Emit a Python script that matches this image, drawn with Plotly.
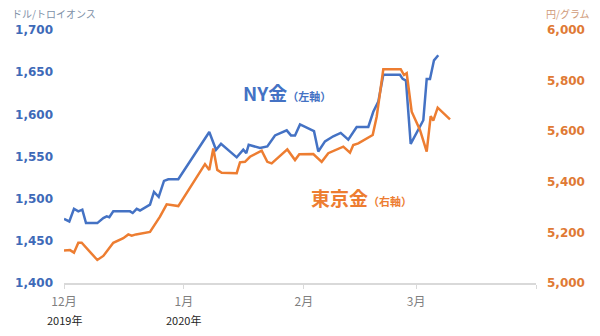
import pandas as pd
import plotly.graph_objects as go

# --- data ---
base_date = "2019-12-01"

ny_days = [0, 1.37, 2.58, 3.70, 4.73, 5.69, 8.61, 10.16, 11.04, 11.71, 12.74, 17.06, 17.76,
           18.79, 19.64, 22.23, 23.26, 24.48, 25.85, 26.96, 29.54, 37.55, 39.29, 40.58,
           44.64, 46.34, 47.12, 47.74, 50.66, 52.55, 54.54, 57.56, 58.67, 59.71, 61.0,
           63.40, 64.62, 65.73, 67.46, 69.60, 71.52, 73.48, 75.65, 78.65, 79.94, 81.24,
           82.53, 86.84, 87.54, 88.39, 89.61, 92.87, 93.75, 94.60, 95.63, 96.74]
ny_gold = [1476, 1473, 1488, 1485, 1487, 1471, 1471, 1477, 1479, 1478, 1485, 1485, 1483,
           1488, 1486, 1493, 1508, 1502, 1521, 1523, 1523, 1579, 1558, 1565,
           1549, 1558, 1554, 1564, 1560, 1562, 1575, 1581, 1575, 1575, 1588,
           1583, 1580, 1556, 1568, 1574, 1578, 1570, 1585, 1585, 1603, 1615,
           1647, 1647, 1642, 1640, 1565, 1593, 1642, 1642, 1664, 1670]

tk_days = [0, 1.55, 2.58, 3.70, 4.57, 8.61, 10.16, 12.74, 15.33, 16.62, 17.50, 18.61,
           22.23, 24.81, 26.54, 29.54, 36.44, 37.55, 38.59, 39.62, 40.76, 44.64, 45.49,
           46.78, 48.07, 51.10, 52.55, 53.68, 57.72, 59.71, 60.82, 64.44, 66.61, 68.31,
           72.19, 73.92, 74.77, 76.07, 79.79, 80.82, 82.53, 87.03, 87.88, 88.58, 89.87,
           92.01, 93.75, 94.78, 95.45, 96.59, 99.77]
tokyo_gold = [5128, 5130, 5120, 5159, 5159, 5091, 5107, 5159, 5177, 5192, 5187, 5192,
              5202, 5262, 5311, 5304, 5470, 5447, 5532, 5447, 5436, 5434, 5477,
              5479, 5499, 5523, 5479, 5473, 5528, 5486, 5509, 5510, 5479, 5513,
              5539, 5515, 5545, 5552, 5585, 5657, 5845, 5845, 5822, 5829, 5677,
              5605, 5519, 5660, 5642, 5693, 5647]

month_ticks = ["2019-12-01", "2020-01-01", "2020-02-01", "2020-03-01", "2020-04-01"]
month_labels = ["12月", "1月", "2月", "3月", ""]
year_labels = ["2019年", "2020年", "", "", ""]

left_ticks = [1400, 1450, 1500, 1550, 1600, 1650, 1700]
right_ticks = [5000, 5200, 5400, 5600, 5800, 6000]

BLUE = "#4472C4"
ORANGE = "#ED7D31"

t0 = pd.Timestamp(base_date)
ny_x = t0 + pd.to_timedelta(ny_days, unit="D")
tk_x = t0 + pd.to_timedelta(tk_days, unit="D")

fig = go.Figure()
fig.add_trace(go.Scatter(x=ny_x, y=ny_gold, mode="lines",
                         line=dict(color=BLUE, width=2.5), yaxis="y", showlegend=False))
fig.add_trace(go.Scatter(x=tk_x, y=tokyo_gold, mode="lines",
                         line=dict(color=ORANGE, width=2.5), yaxis="y2", showlegend=False))

fig.update_layout(
    width=600, height=336,
    margin=dict(l=64, r=64, t=30, b=53),
    paper_bgcolor="white", plot_bgcolor="white",
    font=dict(family="Noto Sans CJK JP"),
    xaxis=dict(
        type="date",
        range=["2019-12-01", "2020-04-01"],
        tickvals=month_ticks, ticktext=month_labels,
        ticks="outside", ticklen=4, tickcolor="#d9d9d9",
        showline=True, linecolor="#d9d9d9", linewidth=1.5,
        showgrid=False, zeroline=False,
        tickfont=dict(size=12, color="#7f7f7f", family="Noto Sans CJK JP"),
        ticklabelstandoff=3,
    ),
    yaxis=dict(
        range=[1400, 1700], tickvals=left_ticks,
        ticktext=[f"{v:,}" for v in left_ticks],
        showgrid=False, zeroline=False, showline=False,
        tickfont=dict(size=12, color="#3E6AB8", family="DejaVu Sans", weight="bold"),
        ticklabelstandoff=10,
    ),
    yaxis2=dict(
        range=[5000, 6000], tickvals=right_ticks,
        ticktext=[f"{v:,}" for v in right_ticks],
        overlaying="y", side="right",
        showgrid=False, zeroline=False, showline=False,
        tickfont=dict(size=12, color="#E07A35", family="DejaVu Sans", weight="bold"),
        ticklabelstandoff=10,
    ),
)

for tv, yl in zip(month_ticks, year_labels):
    if yl:
        fig.add_annotation(xref="x", yref="paper", x=tv, y=(283 - 320) / 253,
                           xanchor="center", yanchor="middle", showarrow=False,
                           text=yl, font=dict(size=11, color="#262626"))

fig.add_annotation(xref="paper", yref="paper", x=(10 - 64) / 472, y=(283 - 14) / 253,
                   xanchor="left", yanchor="middle", showarrow=False,
                   text="ドル/トロイオンス", font=dict(size=10, color="#8091a8"))
fig.add_annotation(xref="paper", yref="paper", x=(592 - 64) / 472, y=(283 - 14) / 253,
                   xanchor="right", yanchor="middle", showarrow=False,
                   text="円/グラム", font=dict(size=10, color="#d09a78"))
fig.add_annotation(xref="paper", yref="paper", x=(241 - 64) / 472, y=(283 - 92) / 253,
                   xanchor="left", yanchor="middle", showarrow=False,
                   text="<b>NY金</b><span style='font-size:11px'><b>（左軸）</b></span>",
                   font=dict(size=19, color=BLUE))
fig.add_annotation(xref="paper", yref="paper", x=(309 - 64) / 472, y=(283 - 197) / 253,
                   xanchor="left", yanchor="middle", showarrow=False,
                   text="<b>東京金</b><span style='font-size:11px'><b>（右軸）</b></span>",
                   font=dict(size=19, color=ORANGE))

fig.write_html("out.html")
